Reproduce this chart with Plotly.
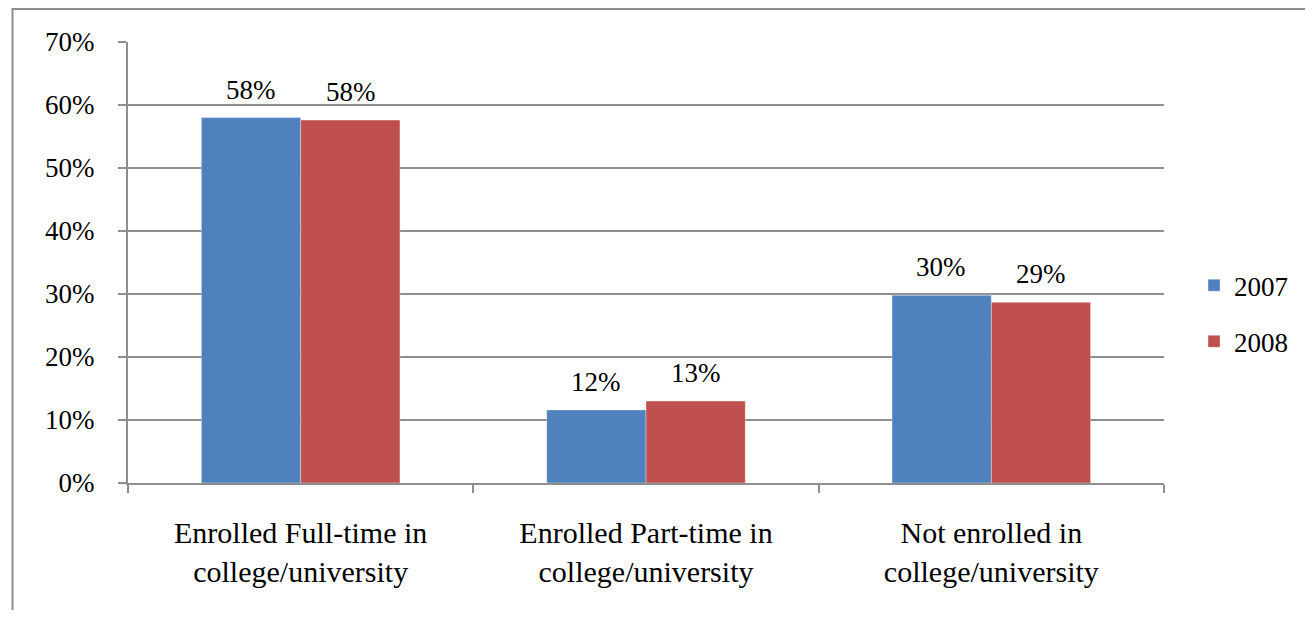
import plotly.graph_objects as go

categories = ["Enrolled Full-time in<br>college/university",
              "Enrolled Part-time in<br>college/university",
              "Not enrolled in<br>college/university"]
series_names = ["2007", "2008"]
values_2007 = [58.0, 11.6, 29.8]
values_2008 = [57.6, 13.0, 28.7]
labels_2007 = ["58%", "12%", "30%"]
labels_2008 = ["58%", "13%", "29%"]
y_ticks = [0, 10, 20, 30, 40, 50, 60, 70]
y_tick_labels = ["0%", "10%", "20%", "30%", "40%", "50%", "60%", "70%"]

colors = ["#4F81BD", "#C0504D"]
FONT = "Liberation Serif"
GRID = "#8e8e8e"
FS = 27
FS_CAT = 30

fig = go.Figure()
for name, vals, col in zip(series_names, [values_2007, values_2008], colors):
    fig.add_trace(go.Bar(
        x=categories, y=vals, name=name, legendgroup=name,
        marker=dict(color=col, line=dict(width=0.6, color="rgba(255,255,255,0.6)")),
        hoverinfo="skip",
    ))

# data labels above each bar
bar_half = 50
for vals, labs, shift in [(values_2007, labels_2007, -bar_half), (values_2008, labels_2008, bar_half)]:
    for c, v, t in zip(categories, vals, labs):
        fig.add_annotation(x=c, y=v, text=t, showarrow=False, xshift=shift,
                           yanchor="bottom", yshift=11,
                           font=dict(family=FONT, size=FS, color="black"))

# outer chart border (partially cropped in the reference)
fig.add_shape(type="rect", xref="paper", yref="paper",
              x0=-0.1115, x1=2.0, y0=-2.0, y1=1.0748,
              line=dict(color="#8e8e8e", width=2), layer="below")

fig.update_layout(
    width=1297, height=602,
    margin=dict(l=120, r=137, t=34, b=127),
    paper_bgcolor="white", plot_bgcolor="white",
    barmode="group", bargap=0.425, bargroupgap=0,
    font=dict(family=FONT, size=FS, color="black"),
    legend=dict(x=1.029, y=0.384, xanchor="left", yanchor="middle",
                traceorder="grouped", tracegroupgap=18,
                font=dict(family=FONT, size=FS, color="black"),
                bgcolor="rgba(0,0,0,0)"),
    showlegend=True,
)
fig.update_yaxes(range=[0, 70], tickmode="array", tickvals=y_ticks, ticktext=y_tick_labels,
                 showgrid=True, gridcolor=GRID, gridwidth=2,
                 showline=True, linecolor=GRID, linewidth=2,
                 ticks="outside", ticklen=8, tickcolor=GRID, tickwidth=2,
                 ticklabelstandoff=18, zeroline=False, automargin=False,
                 tickfont=dict(family=FONT, size=FS, color="black"))
fig.update_xaxes(type="category", showline=True, linecolor=GRID, linewidth=2,
                 ticks="outside", tickson="boundaries", ticklen=8,
                 tickcolor=GRID, tickwidth=2, showgrid=False,
                 ticklabelstandoff=22, automargin=False,
                 tickfont=dict(family=FONT, size=FS_CAT, color="black"))

fig.write_html("out.html")
